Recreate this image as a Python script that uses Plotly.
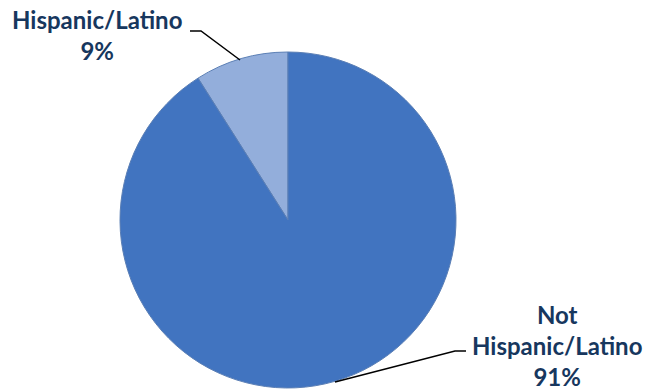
import plotly.graph_objects as go

labels = ["Hispanic/Latino", "Not Hispanic/Latino"]
values = [9, 91]
colors = ["#93AEDB", "#4174C0"]

W, H = 645, 390
fig = go.Figure(go.Pie(
    labels=labels, values=values, sort=False,
    marker=dict(colors=colors, line=dict(color="#5B7FB5", width=1)),
    textinfo="none", hoverinfo="label+percent",
    domain=dict(x=[120/W, 456/W], y=[2/H, 338/H]),
    showlegend=False,
))
fig.update_traces(direction="clockwise", rotation=-360 * values[0] / sum(values))

navy = "#17375E"
font = dict(family="Lato", size=24, color=navy)

def px(x):
    return x / W

def py(y):
    return 1 - y / H

fig.add_annotation(x=px(97), y=py(35), xref="paper", yref="paper",
                   xanchor="center", yanchor="middle",
                   text="<b>%s<br>%d%%</b>" % (labels[0], values[0]),
                   showarrow=False, font=font, align="center")
fig.add_annotation(x=px(557), y=py(345), xref="paper", yref="paper",
                   xanchor="center", yanchor="middle",
                   text="<b>Not<br>Hispanic/Latino<br>%d%%</b>" % values[1],
                   showarrow=False, font=font, align="center")

fig.add_shape(type="path", xref="paper", yref="paper",
              path="M %f %f L %f %f L %f %f" % (px(190), py(31), px(201), py(31), px(240), py(60)),
              line=dict(color="black", width=1.5))
fig.add_shape(type="path", xref="paper", yref="paper",
              path="M %f %f L %f %f L %f %f" % (px(335), py(382), px(455), py(351), px(466), py(351)),
              line=dict(color="black", width=1.5))

fig.update_layout(width=W, height=H, margin=dict(l=0, r=0, t=0, b=0),
                  paper_bgcolor="white", plot_bgcolor="white")
fig.write_html("out.html")
